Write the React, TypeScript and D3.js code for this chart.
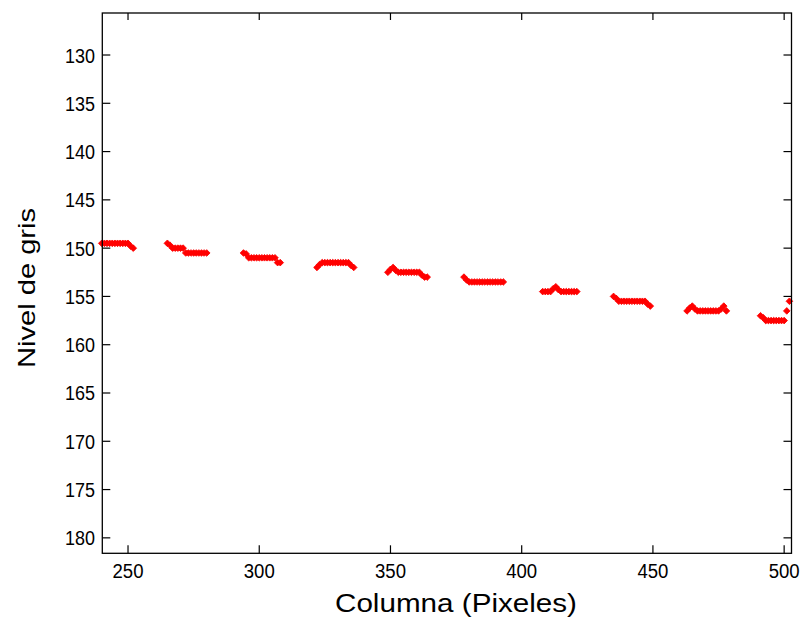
import React from "react";
import * as d3 from "d3";

const columns: number[] = [
  240, 241, 242, 243, 244, 245, 246, 247, 248, 249, 250, 251, 252,
  265, 266, 267, 268, 269, 270, 271, 272, 273, 274, 275, 276, 277, 278, 279, 280,
  294, 295, 296, 297, 298, 299, 300, 301, 302, 303, 304, 305, 306, 307, 308,
  322, 323, 324, 325, 326, 327, 328, 329, 330, 331, 332, 333, 334, 335, 336,
  349, 350, 351, 352, 353, 354, 355, 356, 357, 358, 359, 360, 361, 362, 363, 364,
  378, 379, 380, 381, 382, 383, 384, 385, 386, 387, 388, 389, 390, 391, 392, 393,
  408, 409, 410, 411, 412, 413, 414, 415, 416, 417, 418, 419, 420, 421,
  435, 436, 437, 438, 439, 440, 441, 442, 443, 444, 445, 446, 447, 448, 449,
  463, 464, 465, 466, 467, 468, 469, 470, 471, 472, 473, 474, 475, 476, 477, 478,
  491, 492, 493, 494, 495, 496, 497, 498, 499, 500, 501, 502,
];

const grayLevel: number[] = [
  149.5, 149.5, 149.5, 149.5, 149.5, 149.5, 149.5, 149.5, 149.5, 149.5, 149.5, 149.8, 150,
  149.5, 149.7, 150, 150, 150, 150, 150, 150.5, 150.5, 150.5, 150.5, 150.5, 150.5, 150.5, 150.5, 150.5,
  150.5, 150.6, 151, 151, 151, 151, 151, 151, 151, 151, 151, 151, 151, 151.5, 151.5,
  152, 151.7, 151.5, 151.5, 151.5, 151.5, 151.5, 151.5, 151.5, 151.5, 151.5, 151.5, 151.5, 151.8, 152,
  152.5, 152.2, 152, 152.3, 152.5, 152.5, 152.5, 152.5, 152.5, 152.5, 152.5, 152.5, 152.5, 152.8, 153, 153,
  153, 153.3, 153.5, 153.5, 153.5, 153.5, 153.5, 153.5, 153.5, 153.5, 153.5, 153.5, 153.5, 153.5, 153.5, 153.5,
  154.5, 154.5, 154.5, 154.5, 154.2, 154, 154.3, 154.5, 154.5, 154.5, 154.5, 154.5, 154.5, 154.5,
  155, 155.2, 155.5, 155.5, 155.5, 155.5, 155.5, 155.5, 155.5, 155.5, 155.5, 155.5, 155.5, 155.8, 156,
  156.5, 156.2, 156, 156.3, 156.5, 156.5, 156.5, 156.5, 156.5, 156.5, 156.5, 156.5, 156.5, 156.3, 156, 156.5,
  157, 157.2, 157.5, 157.5, 157.5, 157.5, 157.5, 157.5, 157.5, 157.5, 156.5, 155.5,
];

const xTicks: number[] = [250, 300, 350, 400, 450, 500];
const yTicks: number[] = [130, 135, 140, 145, 150, 155, 160, 165, 170, 175, 180];
const xDomain: number[] = [240.2, 502.8];
const yDomain: number[] = [125.65, 181.6];
const xTitle = "Columna (Pixeles)";
const yTitle = "Nivel de gris";

export default function App() {
  const W = 804, H = 626;
  const left = 102.3, right = 791.5, top = 13, bottom = 553.3;
  const x = d3.scaleLinear().domain(xDomain).range([left, right]);
  const y = d3.scaleLinear().domain(yDomain).range([top, bottom]);
  const marker = d3.symbol().type(d3.symbolSquare).size(22)() as string;
  const font = "'Liberation Sans', Arial, sans-serif";

  return (
    <svg width={W} height={H} style={{ position: "absolute", left: 0, top: 0, background: "#fff" }}>
      <rect x={0} y={0} width={W} height={H} fill="#fff" />
      <g>
        {columns.map((c, i) => (
          <path
            key={i}
            d={marker}
            transform={`translate(${x(c)},${y(grayLevel[i])}) rotate(45)`}
            fill="#ff0000"
            stroke="#ff0000"
            strokeWidth={0.8}
          />
        ))}
      </g>
      <rect x={left} y={top} width={right - left} height={bottom - top} fill="none" stroke="#000" strokeWidth={1.3} />
      {xTicks.map((t) => (
        <g key={"x" + t}>
          <line x1={x(t)} x2={x(t)} y1={bottom} y2={bottom - 8} stroke="#000" strokeWidth={1.2} />
          <line x1={x(t)} x2={x(t)} y1={top} y2={top + 7} stroke="#000" strokeWidth={1.2} />
          <text
            x={x(t)}
            y={578}
            textAnchor="middle"
            fontFamily={font}
            fontSize={20}
            textLength={31}
            lengthAdjust="spacingAndGlyphs"
            fill="#000"
          >
            {t}
          </text>
        </g>
      ))}
      {yTicks.map((t) => (
        <g key={"y" + t}>
          <line x1={left} x2={left + 8} y1={y(t)} y2={y(t)} stroke="#000" strokeWidth={1.2} />
          <line x1={right} x2={right - 8} y1={y(t)} y2={y(t)} stroke="#000" strokeWidth={1.2} />
          <text
            x={95}
            y={y(t) + 7.5}
            textAnchor="end"
            fontFamily={font}
            fontSize={20}
            textLength={30}
            lengthAdjust="spacingAndGlyphs"
            fill="#000"
          >
            {t}
          </text>
        </g>
      ))}
      <text
        x={456}
        y={612}
        textAnchor="middle"
        fontFamily={font}
        fontSize={25}
        textLength={242}
        lengthAdjust="spacingAndGlyphs"
        fill="#000"
      >
        {xTitle}
      </text>
      <text
        transform={`translate(35,288) rotate(-90)`}
        textAnchor="middle"
        fontFamily={font}
        fontSize={24}
        textLength={160}
        lengthAdjust="spacingAndGlyphs"
        fill="#000"
      >
        {yTitle}
      </text>
    </svg>
  );
}
